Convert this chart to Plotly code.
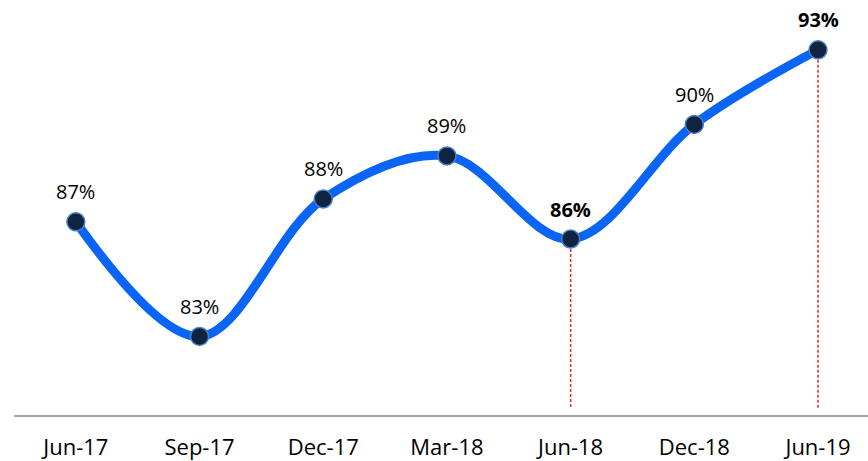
import plotly.graph_objects as go

categories = ["Jun-17", "Sep-17", "Dec-17", "Mar-18", "Jun-18", "Dec-18", "Jun-19"]
values = [87.0, 83.0, 87.8, 89.3, 86.4, 90.4, 93.0]
labels = ["87%", "83%", "88%", "89%", "86%", "90%", "93%"]
bold_labels = ["86%", "93%"]
highlight = ["Jun-18", "Jun-19"]

xs = list(range(len(categories)))

fig = go.Figure()
fig.add_trace(go.Scatter(
    x=xs, y=values, mode="lines+markers",
    line=dict(color="#0A64F5", width=9, shape="spline", smoothing=1.0),
    marker=dict(size=18, color="#10243F", line=dict(color="#4A80C8", width=1.5)),
    hoverinfo="skip",
))

for x, v, lab in zip(xs, values, labels):
    txt = f"<b>{lab}</b>" if lab in bold_labels else lab
    fig.add_annotation(x=x, y=v, text=txt, showarrow=False, yshift=30,
                       font=dict(size=20, color="#000000", family="Open Sans"))

for c in highlight:
    i = categories.index(c)
    fig.add_shape(type="line", xref="x", yref="y", x0=i, x1=i, y0=values[i], y1=80.5,
                  line=dict(color="#D92B2B", width=1.5, dash="3px,2px"), layer="below")

fig.update_layout(
    width=868, height=461,
    margin=dict(l=14, r=0, t=0, b=44),
    paper_bgcolor="white", plot_bgcolor="white",
    showlegend=False,
    xaxis=dict(range=[-0.5, 6.404], tickmode="array", tickvals=xs, ticktext=categories,
               showgrid=False, zeroline=False, showline=True, linecolor="#A6A6A6", linewidth=1.5,
               ticks="", ticklabelstandoff=12,
               tickfont=dict(size=22, color="#000000", family="Open Sans")),
    yaxis=dict(range=[80.26, 94.74], visible=False, showgrid=False, zeroline=False),
)

fig.write_html("out.html", config={"displayModeBar": False},
               post_script="document.body.style.margin='0';document.body.style.padding='0';")
